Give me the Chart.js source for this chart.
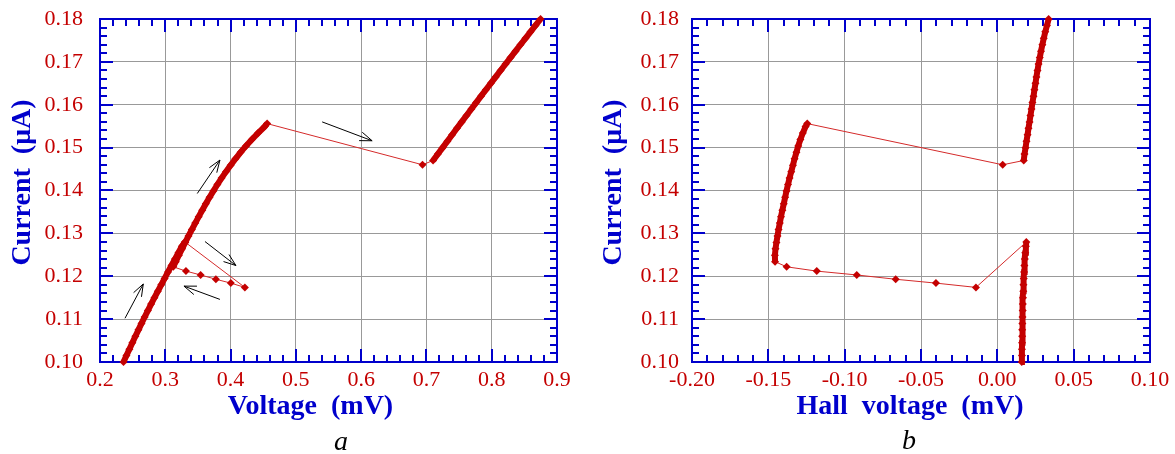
<!DOCTYPE html>
<html>
<head>
<meta charset="utf-8">
<script src="https://cdn.jsdelivr.net/npm/chart.js@4.4.0/dist/chart.umd.min.js"></script>
<style>
  body { margin: 0; background: #fff; width: 1175px; height: 454px; position: relative; overflow: hidden; }
  .panel { position: absolute; top: 0; height: 454px; }
  canvas { display: block; }
  .tag { position: absolute; font: italic 28px 'Liberation Serif', 'Times New Roman', serif; line-height: 28px; color: #000; }
</style>
</head>
<body>
<div class="panel" style="left:0;width:587px"><canvas id="chartA" width="587" height="454"></canvas></div>
<div class="panel" style="left:587px;width:588px"><canvas id="chartB" width="588" height="454"></canvas></div>
<div class="tag" style="left:334px;top:427px">a</div>
<div class="tag" style="left:902px;top:426px">b</div>
<script>
// one sweep, in time order: up, jump, back, up, jump, up
const current = [
    0.1000, 0.1015, 0.1030, 0.1045, 0.1060, 0.1075, 0.1090, 0.1105, 0.1120, 0.1135,
    0.1150, 0.1165, 0.1180, 0.1195, 0.1210, 0.1225, 0.1240, 0.1255, 0.1270, 0.1280,
    0.1174, 0.1184, 0.1193, 0.1203, 0.1212, 0.1222,
    0.1234, 0.1249, 0.1264, 0.1279, 0.1294, 0.1309, 0.1324, 0.1339, 0.1354, 0.1369,
    0.1384, 0.1399, 0.1414, 0.1429, 0.1444, 0.1459, 0.1474, 0.1489, 0.1504, 0.1519,
    0.1534, 0.1549, 0.1556,
    0.1460,
    0.1470, 0.1485, 0.1500, 0.1515, 0.1530, 0.1545, 0.1560, 0.1575, 0.1590, 0.1605,
    0.1620, 0.1635, 0.1650, 0.1665, 0.1680, 0.1695, 0.1710, 0.1725, 0.1740, 0.1755,
    0.1770, 0.1785, 0.1800
];
const voltage = [
    0.2360, 0.2405, 0.2450, 0.2496, 0.2542, 0.2589, 0.2636, 0.2684, 0.2733, 0.2783,
    0.2834, 0.2886, 0.2938, 0.2990, 0.3042, 0.3095, 0.3148, 0.3201, 0.3254, 0.3300,
    0.4219, 0.4004, 0.3775, 0.3541, 0.3316, 0.3122,
    0.3160, 0.3208, 0.3257, 0.3306, 0.3356, 0.3407, 0.3459, 0.3512, 0.3566, 0.3621,
    0.3678, 0.3737, 0.3798, 0.3862, 0.3930, 0.4001, 0.4075, 0.4153, 0.4236, 0.4326,
    0.4421, 0.4522, 0.4560,
    0.6940,
    0.7102, 0.7175, 0.7248, 0.7321, 0.7394, 0.7467, 0.7540, 0.7614, 0.7688, 0.7762,
    0.7836, 0.7911, 0.7986, 0.8061, 0.8136, 0.8212, 0.8288, 0.8364, 0.8440, 0.8517,
    0.8594, 0.8671, 0.8748
];
const hallVoltage = [
    0.0160, 0.0161, 0.0161, 0.0162, 0.0163, 0.0163, 0.0164, 0.0165, 0.0166, 0.0167,
    0.0168, 0.0170, 0.0171, 0.0173, 0.0175, 0.0177, 0.0180, 0.0183, 0.0187, 0.0190,
    -0.0140, -0.0402, -0.0666, -0.0921, -0.1183, -0.1380,
    -0.1456, -0.1457, -0.1453, -0.1447, -0.1440, -0.1433, -0.1425, -0.1417, -0.1408, -0.1399,
    -0.1390, -0.1381, -0.1371, -0.1361, -0.1350, -0.1339, -0.1328, -0.1316, -0.1304, -0.1290,
    -0.1274, -0.1256, -0.1245,
    0.0035,
    0.0173, 0.0178, 0.0185, 0.0191, 0.0198, 0.0204, 0.0211, 0.0217, 0.0224, 0.0230,
    0.0237, 0.0243, 0.0250, 0.0256, 0.0263, 0.0270, 0.0278, 0.0286, 0.0295, 0.0304,
    0.0314, 0.0325, 0.0336
];

const currentTicks = [0.10, 0.11, 0.12, 0.13, 0.14, 0.15, 0.16, 0.17, 0.18];
const voltageTicks = [0.2, 0.3, 0.4, 0.5, 0.6, 0.7, 0.8, 0.9];
const hallTicks = [-0.20, -0.15, -0.10, -0.05, 0.00, 0.05, 0.10];

// direction arrows on panel a: [fromV, fromI, toV, toI]
const arrowsA = [
    [0.2383, 0.1102, 0.2663, 0.1182],
    [0.3490, 0.1393, 0.3837, 0.1471],
    [0.3608, 0.1281, 0.4082, 0.1225],
    [0.3837, 0.1146, 0.3286, 0.1177],
    [0.5403, 0.1560, 0.6168, 0.1516]
];

const BLUE = '#0000cc';
const RED = '#c40000';
const SERIF = "'Liberation Serif', 'Times New Roman', serif";

// blue box with inward major/minor ticks on all four sides
const framePlugin = {
    id: 'frame',
    beforeDatasetsDraw(chart) {
        const { ctx, chartArea: a, scales: { x, y } } = chart;
        const marks = (scale) => {
            const t = scale.ticks.map(k => k.value);
            const out = [];
            for (let i = 0; i < t.length; i++) {
                out.push([t[i], 13]);
                if (i < t.length - 1) {
                    for (let j = 1; j < 5; j++) out.push([t[i] + (t[i + 1] - t[i]) * j / 5, 7]);
                }
            }
            return out;
        };
        ctx.save();
        ctx.strokeStyle = BLUE;
        ctx.lineWidth = 2;
        ctx.beginPath();
        marks(x).forEach(([v, len]) => {
            const px = Math.round(x.getPixelForValue(v));
            ctx.moveTo(px, a.bottom); ctx.lineTo(px, a.bottom - len);
            ctx.moveTo(px, a.top); ctx.lineTo(px, a.top + len);
        });
        marks(y).forEach(([v, len]) => {
            const py = Math.round(y.getPixelForValue(v));
            ctx.moveTo(a.left, py); ctx.lineTo(a.left + len, py);
            ctx.moveTo(a.right, py); ctx.lineTo(a.right - len, py);
        });
        ctx.stroke();
        ctx.strokeRect(a.left, a.top, a.right - a.left, a.bottom - a.top);
        ctx.restore();
    }
};

const arrowPlugin = {
    id: 'arrows',
    afterDatasetsDraw(chart, args, opts) {
        if (!opts.list) return;
        const { ctx, scales: { x, y } } = chart;
        ctx.save();
        ctx.strokeStyle = '#000';
        ctx.lineWidth = 1;
        opts.list.forEach(([v0, i0, v1, i1]) => {
            const x0 = x.getPixelForValue(v0), y0 = y.getPixelForValue(i0);
            const x1 = x.getPixelForValue(v1), y1 = y.getPixelForValue(i1);
            const ang = Math.atan2(y1 - y0, x1 - x0);
            ctx.beginPath();
            ctx.moveTo(x0, y0); ctx.lineTo(x1, y1);
            [-0.35, 0.35].forEach(d => {
                ctx.moveTo(x1, y1);
                ctx.lineTo(x1 - 13 * Math.cos(ang + d), y1 - 13 * Math.sin(ang + d));
            });
            ctx.stroke();
        });
        ctx.restore();
    }
};

// axis titles, a bit off-centre like the original figure
const titlePlugin = {
    id: 'axisTitles',
    afterDraw(chart, args, o) {
        const { ctx, chartArea: a } = chart;
        ctx.save();
        ctx.fillStyle = BLUE;
        ctx.font = `bold 28px ${SERIF}`;
        ctx.textAlign = 'center';
        ctx.textBaseline = 'middle';
        ctx.fillText(o.x, (a.left + a.right) / 2 + o.dx, 407);
        ctx.translate(o.yAt, (a.top + a.bottom) / 2 - 8);
        ctx.rotate(-Math.PI / 2);
        ctx.fillText(o.y, 0, 0);
        ctx.restore();
    }
};

function makeChart(id, xs, xTicks, xDigits, xTitle, dx, yWidth, padRight, yPad, yAt, arrows) {
    return new Chart(document.getElementById(id), {
        type: 'scatter',
        data: {
            datasets: [{
                data: current.map((c, i) => ({ x: xs[i], y: c })),
                showLine: true,
                borderColor: RED,
                backgroundColor: RED,
                pointStyle: 'rectRot',
                pointRadius: 4,
                pointBorderWidth: 0,
                clip: false,
                segment: {
                    borderWidth: c => Math.hypot(c.p1.x - c.p0.x, c.p1.y - c.p0.y) < 11 ? 6 : 1,
                    borderColor: c => Math.hypot(c.p1.x - c.p0.x, c.p1.y - c.p0.y) < 11 ? RED : '#d42a2a'
                }
            }]
        },
        options: {
            responsive: false,
            animation: false,
            layout: { autoPadding: false, padding: { top: 19, right: padRight, left: 0, bottom: 0 } },
            plugins: {
                legend: { display: false },
                tooltip: { enabled: false },
                arrows: { list: arrows },
                axisTitles: { x: xTitle, dx: dx, y: 'Current  (\u03bcA)', yAt: yAt }
            },
            scales: {
                x: {
                    min: xTicks[0],
                    max: xTicks[xTicks.length - 1],
                    afterBuildTicks: s => { s.ticks = xTicks.map(v => ({ value: v })); },
                    afterFit: s => { s.height = 92; s.paddingLeft = 0; s.paddingRight = 0; },
                    border: { display: false },
                    grid: { color: '#999', lineWidth: 1, drawTicks: false },
                    ticks: {
                        color: RED,
                        padding: 5,
                        maxRotation: 0,
                        autoSkip: false,
                        font: { family: SERIF, size: 22 },
                        callback: v => v.toFixed(xDigits)
                    }
                },
                y: {
                    min: 0.10,
                    max: 0.18,
                    afterBuildTicks: s => { s.ticks = currentTicks.map(v => ({ value: v })); },
                    afterFit: s => { s.width = yWidth; s.paddingTop = 0; s.paddingBottom = 0; },
                    border: { display: false },
                    grid: { color: '#999', lineWidth: 1, drawTicks: false },
                    ticks: {
                        color: RED,
                        padding: yPad,
                        autoSkip: false,
                        font: { family: SERIF, size: 22 },
                        callback: v => v.toFixed(2)
                    }
                }
            }
        },
        plugins: [framePlugin, arrowPlugin, titlePlugin]
    });
}

makeChart('chartA', voltage, voltageTicks, 1, 'Voltage  (mV)', -18, 100, 30, 17, 23, arrowsA);
makeChart('chartB', hallVoltage, hallTicks, 2, 'Hall  voltage  (mV)', -11, 105, 25, 13, 27, null);
</script>
</body>
</html>
